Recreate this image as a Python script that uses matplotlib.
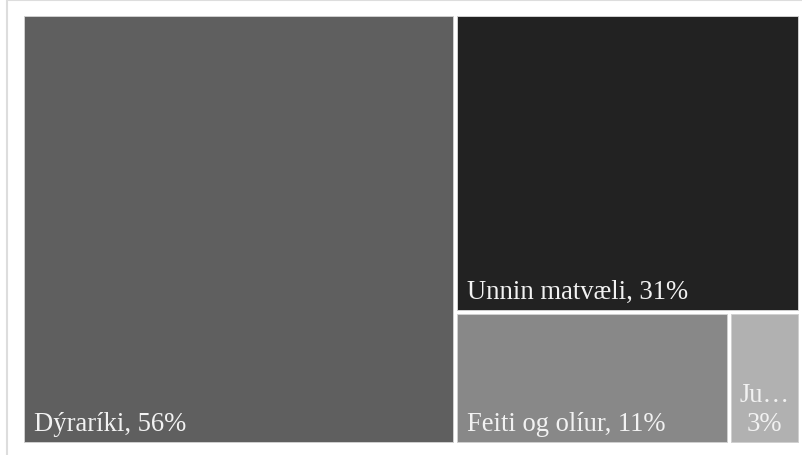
import matplotlib.pyplot as plt
from matplotlib.patches import Rectangle

# Treemap data (share of total, %)
names = ['Dýraríki', 'Unnin matvæli', 'Feiti og olíur', 'Jurtaríki']
values = [55.7, 30.8, 10.8, 2.7]
colors = ['#5f5f5f', '#222222', '#888888', '#b1b1b1']

W, H = 803, 456
area = (24, 17, 774, 426)  # x, y, w, h in pixels (y downward)
gap = 2


def worst(row, side):
    s = sum(row)
    return max(max(side * side * r / (s * s), s * s / (side * side * r)) for r in row)


def squarify(vals, x, y, w, h):
    # vals already scaled to the area
    rects = []
    vals = list(vals)
    while vals:
        side = min(w, h)
        row = [vals.pop(0)]
        while vals and worst(row + [vals[0]], side) <= worst(row, side):
            row.append(vals.pop(0))
        s = sum(row)
        if w >= h:
            cw = s / h
            cy = y
            for r in row:
                rh = r / cw
                rects.append((x, cy, cw, rh))
                cy += rh
            x += cw
            w -= cw
        else:
            ch = s / w
            cx = x
            for r in row:
                rw = r / ch
                rects.append((cx, y, rw, ch))
                cx += rw
            y += ch
            h -= ch
    return rects


def main():
    total = sum(values)
    x0, y0, aw, ah = area
    scaled = [v / total * aw * ah for v in values]
    rects = squarify(scaled, x0, y0, aw, ah)

    fig = plt.figure(figsize=(W / 100, H / 100), dpi=100)
    ax = fig.add_axes([0, 0, 1, 1])
    ax.set_xlim(0, W)
    ax.set_ylim(H, 0)
    ax.axis('off')

    # card border
    ax.plot([7.5, 7.5, W], [H, 1, 1], color='#dddddd', lw=1.5)

    for name, v, c, (x, y, w, h) in zip(names, values, colors, rects):
        # snap inner edges so outer border stays put
        l = x + (gap if x > x0 + 1 else 0)
        t = y + (gap if y > y0 + 1 else 0)
        r = x + w - (gap if x + w < x0 + aw - 1 else 0)
        b = y + h - (gap if y + h < y0 + ah - 1 else 0)
        ax.add_patch(Rectangle((l, t), r - l, b - t, facecolor=c,
                               edgecolor='#d0d0d0', lw=0.7))
        pct = f'{v / total * 100:.0f}%'
        if r - l > 120:
            ax.text(l + 10, b - 12, f'{name}, {pct}', color='#f2f2f2',
                    fontsize=19.2, family='Liberation Serif',
                    ha='left', va='baseline')
        else:
            ax.text((l + r) / 2, b - 12, f'{name[:2]}…\n{pct}', color='#f2f2f2',
                    fontsize=19.2, family='Liberation Serif',
                    ha='center', va='baseline', multialignment='center',
                    linespacing=1.2)

    fig.savefig('out.png', dpi=100)


if __name__ == "__main__":
    main()
